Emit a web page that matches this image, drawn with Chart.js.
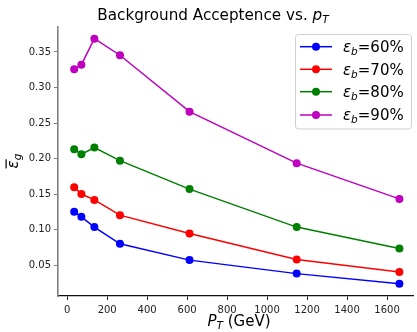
<!DOCTYPE html>
<html><head><meta charset="utf-8">
<script src="https://cdn.jsdelivr.net/npm/chart.js@4.4.0/dist/chart.umd.min.js"></script>
<style>html,body{margin:0;padding:0;background:#fff;overflow:hidden}#wrap{width:417px;height:332px;position:relative}</style>
</head><body><div id="wrap"><canvas id="c" width="417" height="332"></canvas></div>
<script>
const ptValues = [35, 71, 136, 264, 612, 1148, 1662];
const eff60 = [0.125, 0.118, 0.1035, 0.080, 0.057, 0.038, 0.0237];
const eff70 = [0.1597, 0.150, 0.1418, 0.1203, 0.0945, 0.0579, 0.0402];
const eff80 = [0.2131, 0.206, 0.2155, 0.197, 0.157, 0.1035, 0.0734];
const eff90 = [0.3257, 0.3321, 0.3687, 0.3454, 0.266, 0.1935, 0.1432];
const seriesLabels = ['60%', '70%', '80%', '90%'];
const seriesColors = ['#0000ff', '#ff0000', '#008000', '#bf00bf'];
const xTicks = [0, 200, 400, 600, 800, 1000, 1200, 1400, 1600];
const yTicks = [0.05, 0.10, 0.15, 0.20, 0.25, 0.30, 0.35];

const allSeries = [eff60, eff70, eff80, eff90];
const datasets = allSeries.map((s, i) => ({
  label: seriesLabels[i],
  data: ptValues.map((x, j) => ({x: x, y: s[j]})),
  borderColor: seriesColors[i],
  backgroundColor: seriesColors[i],
  borderWidth: 1.5,
  pointRadius: 4,
  pointHoverRadius: 4,
  pointBorderWidth: 0,
  tension: 0
}));

const FONT = '"DejaVu Sans", sans-serif';
const spineColor = '#808080';

const textPlugin = {
  id: 'texts',
  afterDraw(chart) {
    const ctx = chart.ctx;
    ctx.save();
    ctx.fillStyle = '#000';
    ctx.textBaseline = 'alphabetic';
    // Title
    ctx.font = '15.2px ' + FONT;
    const t1 = 'Background Acceptence vs. ';
    const w1 = ctx.measureText(t1).width;
    ctx.font = 'italic 15.2px ' + FONT;
    const wp = ctx.measureText('p').width;
    ctx.font = 'italic 10.6px ' + FONT;
    const wT = ctx.measureText('T').width;
    let total = w1 + wp + wT;
    let x0 = 213 - total / 2;
    const ty = 19.5;
    ctx.textAlign = 'left';
    ctx.font = '15.2px ' + FONT;
    ctx.fillText(t1, x0, ty);
    ctx.font = 'italic 15.2px ' + FONT;
    ctx.fillText('p', x0 + w1, ty);
    ctx.font = 'italic 10.6px ' + FONT;
    ctx.fillText('T', x0 + w1 + wp, ty + 3);

    // X label
    ctx.font = 'italic 15px ' + FONT;
    const wP = ctx.measureText('P').width;
    ctx.font = 'italic 10.5px ' + FONT;
    const wTs = ctx.measureText('T').width;
    ctx.font = '15px ' + FONT;
    const wg = ctx.measureText(' (GeV)').width;
    total = wP + wTs + wg;
    x0 = 239 - total / 2;
    const xy = 326;
    ctx.font = 'italic 15px ' + FONT;
    ctx.fillText('P', x0, xy);
    ctx.font = 'italic 10.5px ' + FONT;
    ctx.fillText('T', x0 + wP, xy + 3);
    ctx.font = '15px ' + FONT;
    ctx.fillText(' (GeV)', x0 + wP + wTs, xy);

    // Y label (rotated)
    ctx.save();
    ctx.translate(18, 161);
    ctx.rotate(-Math.PI / 2);
    ctx.font = 'italic 15px ' + FONT;
    const we = ctx.measureText('\u03b5').width;
    ctx.font = 'italic 10.5px ' + FONT;
    const wgs = ctx.measureText('g').width;
    total = we + wgs;
    const sx = -total / 2;
    ctx.font = 'italic 15px ' + FONT;
    ctx.fillText('\u03b5', sx, 0);
    ctx.font = 'italic 10.5px ' + FONT;
    ctx.fillText('g', sx + we, 3);
    ctx.fillRect(sx, -12.5, we + 1, 1.2);
    ctx.restore();

    // Legend
    const lx = 295.5, ly = 34.5, lw = 116, lh = 94.5;
    ctx.beginPath();
    if (ctx.roundRect) ctx.roundRect(lx, ly, lw, lh, 3); else ctx.rect(lx, ly, lw, lh);
    ctx.fillStyle = 'rgba(255,255,255,0.8)';
    ctx.fill();
    ctx.strokeStyle = '#d0d0d0';
    ctx.lineWidth = 1;
    ctx.stroke();
    const rows = [46.7, 69.3, 91.7, 115];
    rows.forEach((ry, i) => {
      ctx.strokeStyle = seriesColors[i];
      ctx.lineWidth = 1.5;
      ctx.beginPath();
      ctx.moveTo(300, ry);
      ctx.lineTo(332, ry);
      ctx.stroke();
      ctx.fillStyle = seriesColors[i];
      ctx.beginPath();
      ctx.arc(316, ry, 4, 0, Math.PI * 2);
      ctx.fill();
      ctx.fillStyle = '#000';
      const by = ry + 5.3;
      let cx = 343;
      ctx.font = 'italic 15px ' + FONT;
      ctx.fillText('\u03b5', cx, by);
      cx += ctx.measureText('\u03b5').width;
      ctx.font = 'italic 10.5px ' + FONT;
      ctx.fillText('b', cx, by + 3);
      cx += ctx.measureText('b').width;
      ctx.font = '15px ' + FONT;
      ctx.fillText('=' + seriesLabels[i], cx, by);
    });
    ctx.restore();
  }
};

new Chart(document.getElementById('c'), {
  type: 'line',
  data: { datasets: datasets },
  options: {
    responsive: false,
    animation: false,
    events: [],
    layout: { padding: { top: 26.4, right: 0, left: 0, bottom: 0 } },
    plugins: { legend: { display: false }, title: { display: false }, tooltip: { enabled: false } },
    scales: {
      x: {
        type: 'linear',
        min: -46,
        max: 1730,
        afterBuildTicks(scale) { scale.ticks = xTicks.map(v => ({ value: v })); },
        afterFit(scale) { scale.height = 36; },
        grid: { drawOnChartArea: false, drawTicks: true, tickLength: 4, tickColor: '#222', tickWidth: 1 },
        border: { color: '#111', width: 1.3 },
        ticks: { color: '#222', font: { family: FONT, size: 10 }, padding: 4, maxRotation: 0, autoSkip: false,
                 callback: v => String(v) }
      },
      y: {
        type: 'linear',
        min: 0.0065,
        max: 0.386,
        afterBuildTicks(scale) { scale.ticks = yTicks.map(v => ({ value: v })); },
        afterFit(scale) { scale.width = 58; },
        grid: { drawOnChartArea: false, drawTicks: true, tickLength: 4, tickColor: spineColor, tickWidth: 1 },
        border: { color: spineColor, width: 1.6 },
        ticks: { color: '#222', font: { family: FONT, size: 10 }, padding: 3, autoSkip: false,
                 callback: v => v.toFixed(2) }
      }
    }
  },
  plugins: [textPlugin]
});
</script>
</body></html>
